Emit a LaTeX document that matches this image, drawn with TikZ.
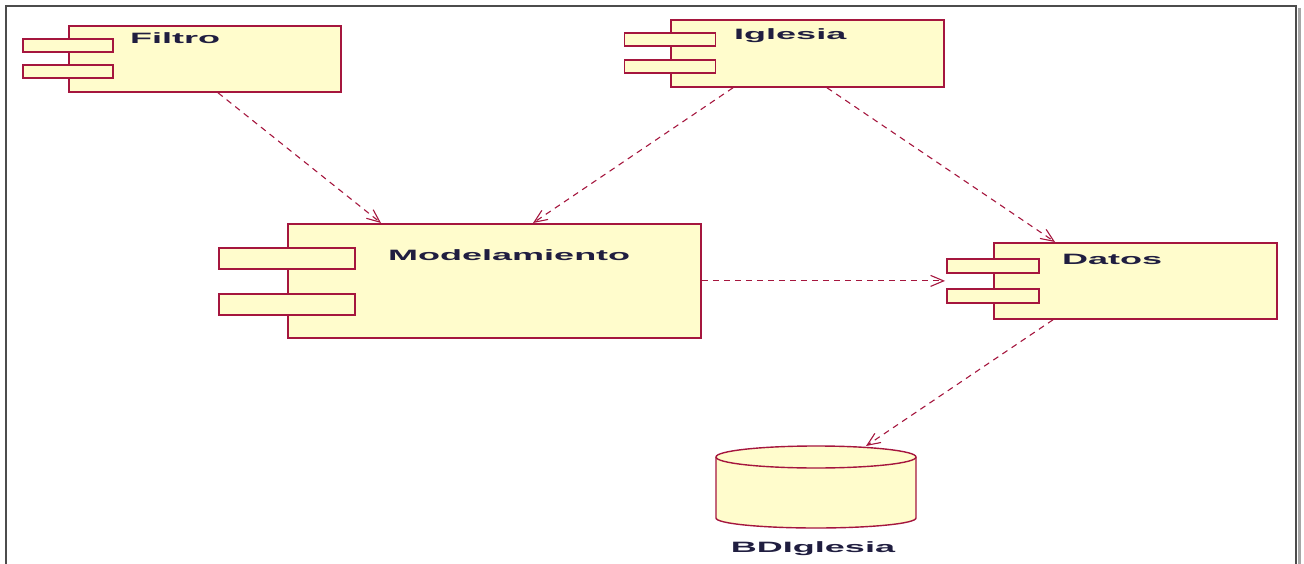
\documentclass[tikz,border=0pt]{standalone}
\usepackage{fontspec}
\setmainfont{Liberation Sans}
\usepackage{graphicx}
\usepackage{tikz}
\usetikzlibrary{calc,arrows.meta}
\definecolor{umlred}{RGB}{165,22,62}
\definecolor{umlfill}{RGB}{255,252,204}
\definecolor{umltext}{RGB}{32,30,64}
\newcommand{\widetext}[1]{\scalebox{2.4}[1]{#1}}
\tikzset{
	compbody/.style={draw=umlred,fill=umlfill,line width=1.8pt,anchor=north west,inner sep=0pt},
	comptab/.style={draw=umlred,fill=umlfill,line width=1.8pt,anchor=north,inner sep=0pt},
	complabel/.style={anchor=base west,inner sep=0pt,text=umltext,font=\bfseries\fontsize{15}{18}\selectfont},
	dbshape/.style={draw=umlred,fill=umlfill,line width=1.4pt},
	depedge/.style={draw=umlred,line width=1.1pt,dash pattern=on 6pt off 5pt,-{Straight Barb[length=13pt,width=11pt]}}
}

\begin{document}
\begin{tikzpicture}[x=1pt,y=-1pt,
		frameline/.style={draw=black!70,line width=1.5pt}]
	\useasboundingbox (0,0) rectangle (1304,564);
	% window frame
	\draw[black!35,line width=3pt] (1299,8) -- (1299,564);
	\draw[frameline] (6,564) -- (6,6) -- (1296,6) -- (1296,564);
	% components: name/x/y/width/height/tab width/tab height/tab offsets
	\foreach \n/\x/\y/\w/\h/\tw/\th/\ta/\tb in {filtro/68/25/272/66/90/13/13/39,
			iglesia/670/19/273/67/91/13/13/40,
			model/287/223/413/114/136/21/24/70,
			datos/993/242/283/76/92/14/16/46} {
		\node[compbody,minimum width=\w pt,minimum height=\h pt] (\n) at (\x,\y) {};
		\node[comptab,minimum width=\tw pt,minimum height=\th pt] (\n-a) at ($(\n.north west)+(0,\ta)$) {};
		\node[comptab,minimum width=\tw pt,minimum height=\th pt] (\n-b) at ($(\n.north west)+(0,\tb)$) {};
	}
	\node[complabel] (filtro-lbl) at (130,44) {\widetext{Filtro}};
	\node[complabel] (iglesia-lbl) at (734,40) {\widetext{Iglesia}};
	\node[complabel] (model-lbl) at (388,260) {\widetext{Modelamiento}};
	\node[complabel] (datos-lbl) at (1062,265) {\widetext{Datos}};
	% database
	\draw[dbshape] (716,457) -- (716,518) arc[start angle=180,end angle=360,x radius=100pt,y radius=10pt]
		-- (916,457) arc[start angle=0,end angle=180,x radius=100pt,y radius=11pt] -- cycle;
	\draw[dbshape,fill=none] (716,457) arc[start angle=180,end angle=360,x radius=100pt,y radius=11pt];
	\coordinate (bdtop) at (866,446);
	\node[complabel,anchor=base] (bd-lbl) at (813,552) {\widetext{BDIglesia}};
	% dependencies
	\draw[depedge] ($(filtro.south west)+(150,0)$) -- ($(model.north west)+(94,0)$);
	\draw[depedge] ($(iglesia.south west)+(63,0)$) -- ($(model.north west)+(246,0)$);
	\draw[depedge] ($(iglesia.south west)+(157,0)$) -- ($(datos.north west)+(62,0)$);
	\draw[depedge] (model.east) -- ($(datos.west)+(-48,0)$);
	\draw[depedge] ($(datos.south west)+(60,0)$) -- (bdtop);
\end{tikzpicture}
\end{document}
